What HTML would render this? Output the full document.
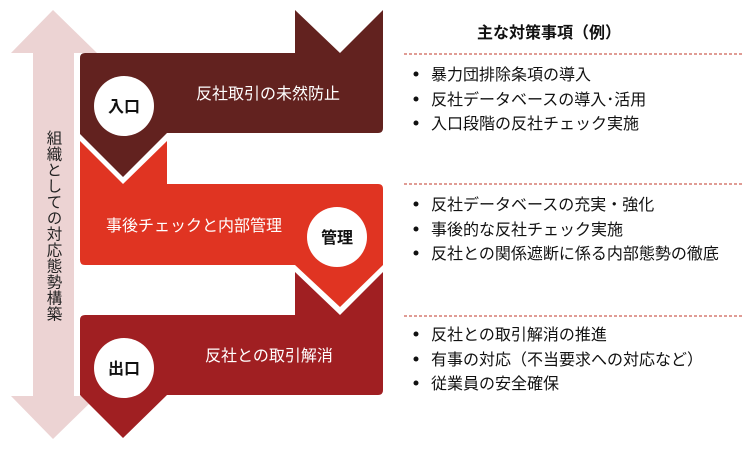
<!DOCTYPE html>
<html><head><meta charset="utf-8"><style>
body{margin:0;background:#fff;}
svg{display:block;font-family:"Liberation Sans","Noto Sans CJK JP",sans-serif;}
</style></head><body>
<svg width="752" height="449" viewBox="0 0 752 449" xmlns="http://www.w3.org/2000/svg">
<polygon points="53,10 97,53 74,53 74,396 97,396 53,439 11,396 33,396 33,53 11,53" fill="#ecd3d3"/>
<text x="53" y="130" font-size="15.5" fill="#222" style="writing-mode:vertical-rl" text-anchor="start" letter-spacing="0.5">組織としての対応態勢構築</text>
<path d="M295,272 L340,315 L383,272 L383,390 Q383,395 378,395 L167,395 L123,438 L80,395 L80,320 Q80,315 85,315 L295,315 Z" fill="#a01f22"/>
<path d="M80,141 L123,184 L167,141 L167,184 L378,184 Q383,184 383,189 L383,265 L340,307 L295,265 L85,265 Q80,265 80,260 Z" fill="#e03422"/>
<path d="M295,10 L340,53 L383,10 L383,128 Q383,133 378,133 L167,133 L123,177 L80,134 L80,58 Q80,53 85,53 L295,53 Z" fill="#62221f"/>
<circle cx="124" cy="106" r="30" fill="#fff"/>
<circle cx="337" cy="237" r="30" fill="#fff"/>
<circle cx="124" cy="368" r="30" fill="#fff"/>
<g font-size="16" font-weight="bold" fill="#111" text-anchor="middle">
<text x="124" y="112">入口</text><text x="337" y="243">管理</text><text x="124" y="374">出口</text>
</g>
<g font-size="16" fill="#fff">
<text x="196" y="99">反社取引の未然防止</text>
<text x="106" y="231">事後チェックと内部管理</text>
<text x="205" y="361">反社との取引解消</text>
</g>
<text x="477" y="38" font-size="16" font-weight="bold" fill="#111">主な対策事項（例）</text>
<g stroke="#c0392b" stroke-width="1" stroke-dasharray="3,2">
<line x1="404" y1="54" x2="742" y2="54"/><line x1="404" y1="184" x2="742" y2="184"/><line x1="404" y1="316" x2="742" y2="316"/>
</g>
<g fill="#111"><circle cx="416" cy="74" r="2.5"/><circle cx="416" cy="99" r="2.5"/><circle cx="416" cy="123" r="2.5"/>
<circle cx="416" cy="204" r="2.5"/><circle cx="416" cy="229" r="2.5"/><circle cx="416" cy="253" r="2.5"/>
<circle cx="416" cy="334" r="2.5"/><circle cx="416" cy="359" r="2.5"/><circle cx="416" cy="383" r="2.5"/></g>
<g font-size="16" fill="#111">
<text x="431" y="80">暴力団排除条項の導入</text>
<text x="431" y="105">反社データベースの導入･活用</text>
<text x="431" y="129">入口段階の反社チェック実施</text>
<text x="431" y="210">反社データベースの充実・強化</text>
<text x="431" y="235">事後的な反社チェック実施</text>
<text x="431" y="259">反社との関係遮断に係る内部態勢の徹底</text>
<text x="431" y="340">反社との取引解消の推進</text>
<text x="431" y="365">有事の対応（不当要求への対応など）</text>
<text x="431" y="389">従業員の安全確保</text>
</g>
</svg>
</body></html>
